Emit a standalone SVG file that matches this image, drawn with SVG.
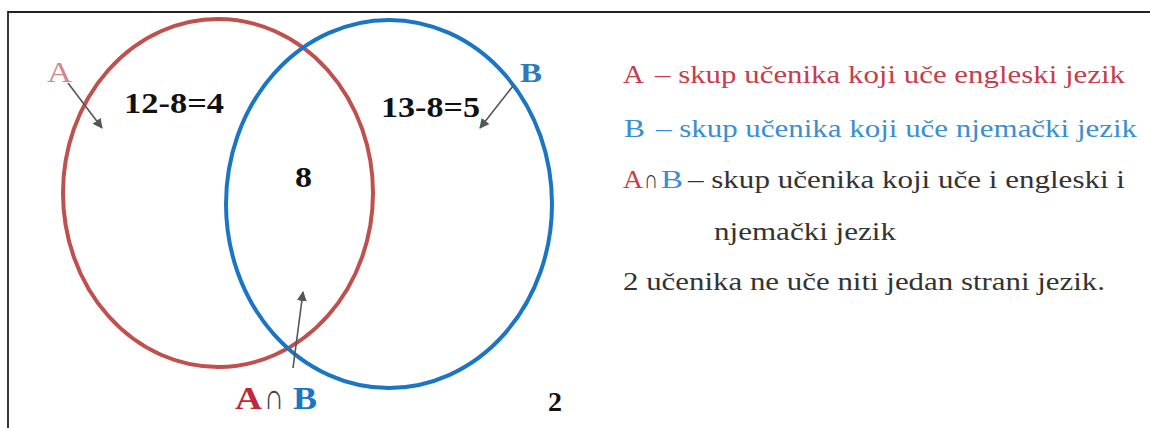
<svg xmlns="http://www.w3.org/2000/svg" width="1150" height="428" viewBox="0 0 1150 428">
<style>
.t{font-family:'Liberation Serif','Times New Roman','DejaVu Serif',serif}
.b{font-weight:bold}
.arr{stroke:#555;stroke-width:1.6;fill:none}
.red{fill:#c83c4c}
.blue{fill:#3a8ed2}
.dark{fill:#333}
</style>
<defs>
<marker id="ah" viewBox="0 0 10 10" refX="9" refY="5" markerWidth="10" markerHeight="10" markerUnits="userSpaceOnUse" orient="auto">
<path d="M0,0 L10,5 L0,10 z" fill="#555"/>
</marker>
</defs>
<rect width="1150" height="428" fill="#fff"/>
<path d="M8,430 V12 H1152" fill="none" stroke="#222" stroke-width="1.8"/>

<g id="setA">
<ellipse cx="218" cy="193" rx="155" ry="174" fill="none" stroke="#c0504d" stroke-width="4"/>
</g>
<g id="setB">
<ellipse cx="389" cy="204" rx="163" ry="184" fill="none" stroke="#1a76c4" stroke-width="4"/>
</g>

<g id="connectors">
<line class="arr" x1="68" y1="83" x2="102" y2="128" marker-end="url(#ah)"/>
<line class="arr" x1="513" y1="86" x2="480" y2="128" marker-end="url(#ah)"/>
<line class="arr" x1="293" y1="368" x2="303" y2="292" marker-end="url(#ah)"/>
</g>

<g id="labelA"><text class="t" x="47" y="82" font-size="29" fill="#d48888" textLength="25" lengthAdjust="spacingAndGlyphs">A</text></g>
<g id="labelB"><text class="t b" x="520" y="82" font-size="28" fill="#2e78bf" textLength="22" lengthAdjust="spacingAndGlyphs">B</text></g>
<g id="onlyA"><text class="t b" x="124" y="113" font-size="29" fill="#111" textLength="100" lengthAdjust="spacingAndGlyphs">12-8=4</text></g>
<g id="onlyB"><text class="t b" x="381" y="117" font-size="29" fill="#111" textLength="99" lengthAdjust="spacingAndGlyphs">13-8=5</text></g>
<g id="both"><text class="t b" x="295" y="187" font-size="29" fill="#111" textLength="17" lengthAdjust="spacingAndGlyphs">8</text></g>
<g id="outside"><text class="t b" x="548" y="411" font-size="28" fill="#111" textLength="14" lengthAdjust="spacingAndGlyphs">2</text></g>
<g id="labelAB">
<text class="t b" x="235" y="409" font-size="32" fill="#c0283c" textLength="27" lengthAdjust="spacingAndGlyphs">A</text>
<text class="t" x="264" y="409" font-size="36" fill="#444" textLength="20" lengthAdjust="spacingAndGlyphs">∩</text>
<text class="t b" x="293" y="409" font-size="32" fill="#1a76c4" textLength="24" lengthAdjust="spacingAndGlyphs">B</text>
</g>

<g id="legend" font-size="26">
<text class="t red" x="623" y="83" textLength="21" lengthAdjust="spacingAndGlyphs">A</text>
<text class="t red" x="655" y="83" textLength="470" lengthAdjust="spacingAndGlyphs">– skup učenika koji uče engleski jezik</text>
<text class="t blue" x="624" y="137" textLength="21" lengthAdjust="spacingAndGlyphs">B</text>
<text class="t blue" x="656" y="137" textLength="481" lengthAdjust="spacingAndGlyphs">– skup učenika koji uče njemački jezik</text>
<text class="t red" x="623" y="188" textLength="20" lengthAdjust="spacingAndGlyphs">A</text>
<text class="t dark" x="644" y="188" font-size="26" textLength="14" lengthAdjust="spacingAndGlyphs">∩</text>
<text class="t blue" x="661" y="188" textLength="22" lengthAdjust="spacingAndGlyphs">B</text>
<text class="t dark" x="688" y="188" textLength="437" lengthAdjust="spacingAndGlyphs">– skup učenika koji uče i engleski i</text>
<text class="t dark" x="714" y="240" textLength="182" lengthAdjust="spacingAndGlyphs">njemački jezik</text>
<text class="t dark" x="623" y="290" textLength="482" lengthAdjust="spacingAndGlyphs">2 učenika ne uče niti jedan strani jezik.</text>
</g>
</svg>
